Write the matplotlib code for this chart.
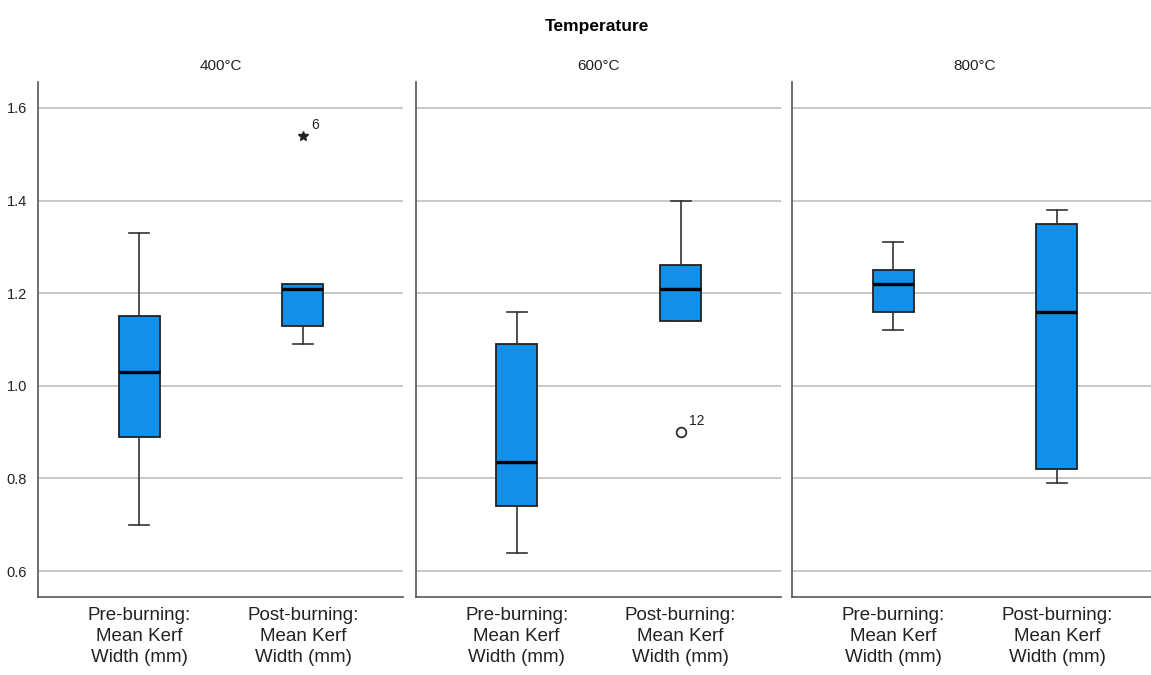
import matplotlib
matplotlib.use("Agg")
import matplotlib.pyplot as plt

# chart data
temperatures = ["400°C", "600°C", "800°C"]
groups = ["Pre-burning:\nMean Kerf\nWidth (mm)", "Post-burning:\nMean Kerf\nWidth (mm)"]

# per panel: [pre, post]
whisker_low = [[0.70, 1.09], [0.64, 1.14], [1.12, 0.79]]
q1_values = [[0.89, 1.13], [0.74, 1.14], [1.16, 0.82]]
medians = [[1.03, 1.21], [0.835, 1.21], [1.22, 1.16]]
q3_values = [[1.15, 1.22], [1.09, 1.26], [1.25, 1.35]]
whisker_high = [[1.33, 1.22], [1.16, 1.40], [1.31, 1.38]]

# outliers: (panel, group, value, case label, marker)
outliers = [(0, 1, 1.54, "6", "*"), (1, 1, 0.90, "12", "o")]

yticks = [0.6, 0.8, 1.0, 1.2, 1.4, 1.6]

BLUE = "#128fe6"
GRID = "#c8c8c8"
SPINE = "#555555"

plt.rcParams["font.family"] = ["Liberation Sans", "DejaVu Sans"]

fig = plt.figure(figsize=(11.51, 6.75), dpi=100)
W, H = 1151, 675
lefts = [38, 415.7, 792]
top, bottom = 82, 597

for i, temp in enumerate(temperatures):
	ax = fig.add_axes([lefts[i] / W, 1 - bottom / H, 365 / W, (bottom - top) / H])

	stats = []
	for g in range(2):
		stats.append({
			"whislo": whisker_low[i][g],
			"q1": q1_values[i][g],
			"med": medians[i][g],
			"q3": q3_values[i][g],
			"whishi": whisker_high[i][g],
			"fliers": [],
		})
	ax.bxp(stats, positions=[0, 1], widths=0.25, patch_artist=True,
		   showfliers=False, capwidths=0.12,
		   boxprops=dict(facecolor=BLUE, edgecolor="#222222", linewidth=1.3),
		   medianprops=dict(color="black", linewidth=2.4),
		   whiskerprops=dict(color="#333333", linewidth=1.2),
		   capprops=dict(color="#333333", linewidth=1.2), zorder=3)

	# outliers with their case numbers
	for (p, g, val, lab, mk) in outliers:
		if p != i:
			continue
		if mk == "*":
			ax.plot(g, val, marker="*", color="#222222", markersize=7, zorder=4)
		else:
			ax.plot(g, val, marker="o", markerfacecolor="white", markeredgecolor="#222222",
					markersize=7, markeredgewidth=1.2, zorder=4)
		ax.annotate(lab, (g, val), xytext=(6, 5), textcoords="offset points",
					fontsize=10, color="#222222")

	ax.set_xlim(-0.616, 1.61)
	ax.set_ylim(0.544, 1.656)
	ax.set_yticks(yticks)
	ax.yaxis.grid(True, color=GRID, linewidth=1.4, zorder=0)
	ax.set_axisbelow(True)
	ax.set_xticks([0, 1])
	ax.set_xticklabels(groups, fontsize=13.5, color="#222222", linespacing=1.32)
	ax.tick_params(axis="x", length=0, pad=7)
	ax.tick_params(axis="y", length=0, pad=8, labelsize=10.5, labelcolor="#222222")
	if i > 0:
		ax.set_yticklabels([])
	for s in ["top", "right"]:
		ax.spines[s].set_visible(False)
	for s in ["left", "bottom"]:
		ax.spines[s].set_color(SPINE)
		ax.spines[s].set_linewidth(1.2)
	ax.set_title(temp, fontsize=11, color="#222222", pad=9)

fig.text(597 / W, 1 - 26 / H, "Temperature", ha="center", va="center",
		 fontsize=12.5, fontweight="bold", color="black")

fig.savefig("out.png", dpi=100, facecolor="white")
